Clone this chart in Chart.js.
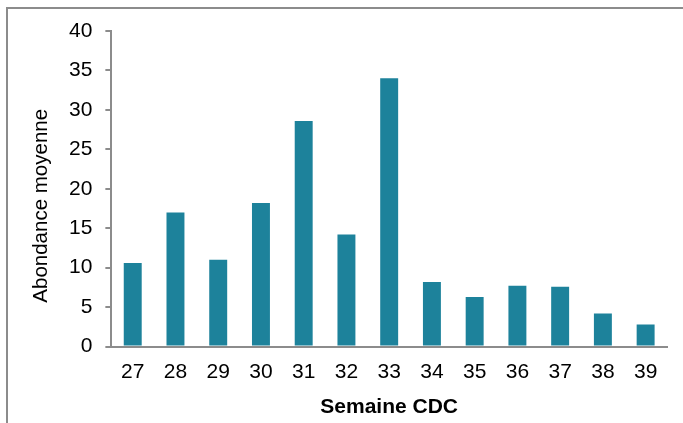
<!DOCTYPE html>
<html>
<head>
<meta charset="utf-8">
<script src="https://cdn.jsdelivr.net/npm/chart.js@4"></script>
<style>
  html, body { margin: 0; padding: 0; background: #fff; }
  #wrap { position: relative; width: 683px; height: 423px; overflow: hidden; }
  #frame { position: absolute; left: 6px; top: 7px; width: 700px; height: 440px;
           border-left: 2px solid #8c8c8c; border-top: 2px solid #8c8c8c; box-sizing: border-box; }
  canvas { position: absolute; left: 0; top: 0; }
</style>
</head>
<body>
<div id="wrap">
  <div id="frame"></div>
  <canvas id="c" width="683" height="423"></canvas>
</div>
<script>
const categories = ['27','28','29','30','31','32','33','34','35','36','37','38','39'];
const abondance = [10.6, 17.0, 11.0, 18.2, 28.6, 14.2, 34.0, 8.2, 6.3, 7.7, 7.6, 4.2, 2.8];
const yTicks = [0, 5, 10, 15, 20, 25, 30, 35, 40];
const yTitle = 'Abondance moyenne';
const xTitle = 'Semaine CDC';

const FONT = "'Liberation Sans', Arial, Helvetica, sans-serif";

// Y-axis title drawn slightly below the axis centre, as in the reference
const yTitlePlugin = {
  id: 'yTitlePlugin',
  afterDraw(chart) {
    const ctx = chart.ctx;
    const area = chart.chartArea;
    ctx.save();
    ctx.translate(41, (area.top + area.bottom) / 2 + 17);
    ctx.rotate(-Math.PI / 2);
    ctx.font = "20.5px " + FONT;
    ctx.fillStyle = '#000';
    ctx.textAlign = 'center';
    ctx.textBaseline = 'middle';
    ctx.fillText(yTitle, 0, 0);
    ctx.restore();
  }
};

new Chart(document.getElementById('c'), {
  type: 'bar',
  data: {
    labels: categories,
    datasets: [{
      data: abondance,
      backgroundColor: '#1d829b',
      borderWidth: 0,
      categoryPercentage: 1.0,
      barPercentage: 0.42
    }]
  },
  plugins: [yTitlePlugin],
  options: {
    responsive: false,
    animation: false,
    devicePixelRatio: 1,
    layout: { padding: { left: 56, top: 31, right: 16, bottom: 3 } },
    plugins: { legend: { display: false }, tooltip: { enabled: false } },
    scales: {
      x: {
        grid: { display: false },
        border: { display: true, color: '#8c8c8c', width: 2 },
        ticks: { color: '#000', font: { family: FONT, size: 21 }, padding: 5, maxRotation: 0 },
        title: { display: true, text: xTitle, color: '#000',
                 font: { family: FONT, size: 21, weight: 'bold' }, padding: { top: 5, bottom: 0 } }
      },
      y: {
        min: 0, max: 40,
        afterBuildTicks: (axis) => { axis.ticks = yTicks.map(v => ({ value: v })); },
        grid: { drawOnChartArea: false, drawTicks: true, tickLength: 6, color: '#8c8c8c', lineWidth: 2 },
        border: { display: true, color: '#8c8c8c', width: 2 },
        ticks: { color: '#000', font: { family: FONT, size: 21 }, padding: 13 },
        title: { display: false }
      }
    }
  }
});
</script>
</body>
</html>
